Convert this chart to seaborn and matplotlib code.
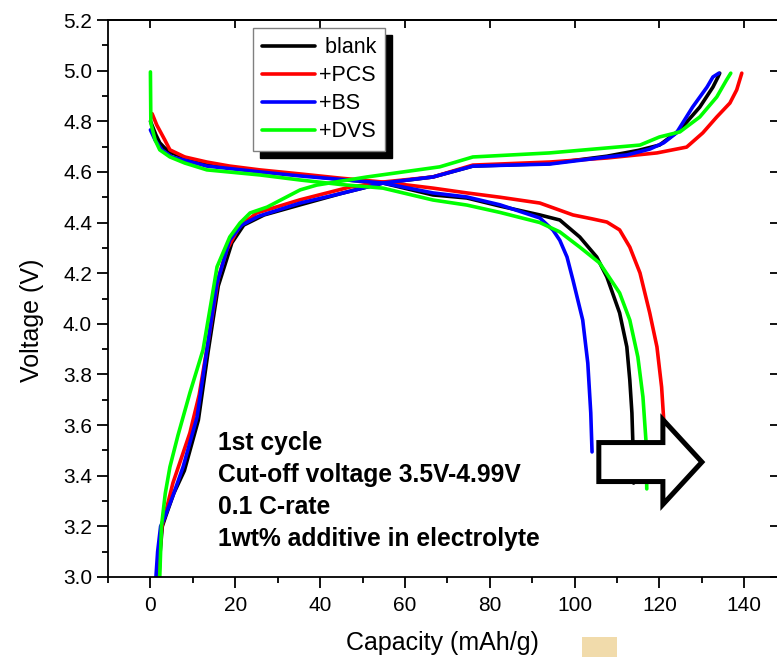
import numpy as np
import pandas as pd
import matplotlib
matplotlib.use("Agg")
import matplotlib.pyplot as plt
from matplotlib.lines import Line2D
from matplotlib.patches import FancyArrow, Rectangle
from matplotlib.ticker import MultipleLocator, NullLocator, FormatStrFormatter
import seaborn as sns

samples = ["blank", "+PCS", "+BS", "+DVS"]
legend_labels = [" blank", "+PCS", "+BS", "+DVS"]
colors = ["#000000", "#ff0000", "#0000ff", "#00ff00"]

# charge curves (capacity mAh/g, voltage V)
blank_chg_c = [2.0, 2.3, 2.8, 3.6, 5.5, 8.0, 11.3, 13.6, 16.0, 19.2, 22.0, 26.8, 35.3, 45.0, 54.8, 66.6,
               76.0, 94.1, 107.6, 115.0, 120.0, 124.8, 129.5, 132.6, 133.8, 134.2]
blank_chg_v = [3.0, 3.1, 3.2, 3.24, 3.33, 3.42, 3.62, 3.89, 4.15, 4.32, 4.39, 4.43, 4.47, 4.515, 4.556, 4.58,
               4.623, 4.633, 4.662, 4.685, 4.706, 4.766, 4.856, 4.935, 4.975, 4.99]
red_chg_c = [1.8, 2.2, 2.7, 3.5, 5.3, 9.3, 11.5, 13.6, 16.0, 18.0, 21.0, 25.1, 35.3, 47.0, 54.8, 66.6, 70.6,
             76.0, 94.1, 107.6, 119.4, 126.4, 130.2, 133.5, 136.6, 138.2, 139.4]
red_chg_v = [3.0, 3.1, 3.2, 3.25, 3.371, 3.569, 3.72, 3.93, 4.18, 4.292, 4.385, 4.438, 4.49, 4.54, 4.56, 4.58,
             4.6, 4.627, 4.639, 4.655, 4.675, 4.698, 4.754, 4.817, 4.872, 4.924, 4.99]
blue_chg_c = [1.3, 1.7, 2.4, 3.4, 5.5, 7.7, 11.0, 13.3, 15.7, 18.7, 21.5, 25.5, 35.3, 45.0, 54.8, 66.6, 76.0,
              94.1, 107.6, 112.3, 117.7, 121.0, 124.0, 127.8, 131.2, 132.6, 134.0]
blue_chg_v = [3.0, 3.1, 3.2, 3.237, 3.33, 3.435, 3.632, 3.897, 4.161, 4.331, 4.39, 4.425, 4.477, 4.515, 4.556,
              4.58, 4.623, 4.631, 4.659, 4.667, 4.69, 4.715, 4.754, 4.856, 4.935, 4.975, 4.99]
green_chg_c = [2.2, 2.6, 3.5, 4.6, 6.5, 9.3, 12.4, 14.4, 15.7, 17.1, 18.7, 21.1, 23.5, 27.5, 35.3, 39.2, 51.0,
               68.2, 76.0, 94.1, 115.4, 120.0, 124.8, 129.5, 133.5, 135.8, 136.8]
green_chg_v = [3.0, 3.2, 3.33, 3.435, 3.56, 3.727, 3.897, 4.094, 4.225, 4.28, 4.343, 4.398, 4.438, 4.461, 4.529,
               4.548, 4.58, 4.62, 4.659, 4.675, 4.706, 4.738, 4.758, 4.817, 4.896, 4.963, 4.99]

# discharge curves
blank_dis_c = [0.0, 0.6, 1.3, 2.2, 3.4, 5.0, 7.0, 13.3, 25.8, 35.3, 45.0, 54.8, 66.6, 74.6, 82.4, 91.8, 96.5,
               101.2, 105.2, 107.6, 110.6, 112.3, 113.0, 113.5, 113.7, 113.9]
blank_dis_v = [4.80, 4.775, 4.746, 4.715, 4.694, 4.675, 4.663, 4.627, 4.604, 4.588, 4.57, 4.556, 4.509, 4.497,
               4.465, 4.43, 4.41, 4.343, 4.264, 4.185, 4.043, 3.909, 3.778, 3.648, 3.541, 3.371]
red_dis_c = [0.4, 1.5, 3.4, 4.6, 8.1, 13.3, 18.7, 25.8, 35.3, 45.0, 54.8, 66.6, 74.6, 82.4, 91.8, 99.6, 104.0,
             107.6, 110.6, 113.0, 115.4, 117.7, 119.4, 120.5, 121.0, 121.3]
red_dis_v = [4.83, 4.785, 4.726, 4.687, 4.659, 4.639, 4.623, 4.608, 4.592, 4.575, 4.56, 4.536, 4.517, 4.50,
             4.477, 4.43, 4.415, 4.402, 4.371, 4.303, 4.201, 4.043, 3.909, 3.75, 3.62, 3.36]
blue_dis_c = [0.0, 1.1, 2.7, 5.1, 13.3, 25.8, 35.3, 45.0, 54.8, 66.6, 74.6, 82.4, 91.8, 94.9, 96.5, 98.2, 99.6,
              101.9, 103.1, 103.8, 104.1]
blue_dis_v = [4.766, 4.726, 4.687, 4.659, 4.623, 4.60, 4.584, 4.57, 4.556, 4.517, 4.501, 4.47, 4.418, 4.37, 4.33,
              4.264, 4.173, 4.015, 3.845, 3.648, 3.494]
green_dis_c = [0.0, 0.1, 1.1, 2.2, 4.6, 8.1, 13.3, 25.8, 35.3, 45.0, 54.8, 66.6, 74.6, 82.4, 91.8, 96.5, 101.2,
               105.9, 110.6, 113.0, 114.9, 116.1, 116.8, 117.0]
green_dis_v = [4.995, 4.793, 4.726, 4.687, 4.659, 4.635, 4.608, 4.588, 4.568, 4.55, 4.536, 4.489, 4.469, 4.44,
               4.40, 4.363, 4.303, 4.24, 4.122, 4.015, 3.869, 3.711, 3.541, 3.348]

note = "1st cycle\nCut-off voltage 3.5V-4.99V\n0.1 C-rate\n1wt% additive in electrolyte"

curves = [
    ("blank", blank_chg_c, blank_chg_v, blank_dis_c, blank_dis_v),
    ("+PCS", red_chg_c, red_chg_v, red_dis_c, red_dis_v),
    ("+BS", blue_chg_c, blue_chg_v, blue_dis_c, blue_dis_v),
    ("+DVS", green_chg_c, green_chg_v, green_dis_c, green_dis_v),
]
rows = []
for name, cc, cv, dc, dv in curves:
    rows += [(name, "charge", c, v) for c, v in zip(cc, cv)]
    rows += [(name, "discharge", c, v) for c, v in zip(dc, dv)]
df = pd.DataFrame(rows, columns=["sample", "step", "capacity", "voltage"])

sns.set_style("ticks")
plt.rcParams["font.family"] = ["Liberation Sans", "DejaVu Sans"]
plt.rcParams.update({"text.color": "black", "axes.labelcolor": "black",
                     "xtick.color": "black", "ytick.color": "black",
                     "axes.edgecolor": "black"})

fig = plt.figure(figsize=(7.77, 6.57), dpi=100)
ax = fig.add_axes([108 / 777, 80 / 657, 669 / 777, 557 / 657])

sns.lineplot(data=df, x="capacity", y="voltage", hue="sample", hue_order=samples,
             palette=colors, units="step", estimator=None, sort=False,
             lw=2.6, legend=False, ax=ax)

ax.set_xlim(-10, 147.7)
ax.set_ylim(3.0, 5.2)
ax.set_xticks(range(0, 141, 20))
ax.xaxis.set_minor_locator(MultipleLocator(10))
ax.set_yticks(np.arange(3.0, 5.21, 0.2))
ax.yaxis.set_minor_locator(MultipleLocator(0.1))
ax.yaxis.set_major_formatter(FormatStrFormatter("%.1f"))
ax.tick_params(axis="x", which="major", pad=6)
ax.tick_params(which="major", direction="out", length=8, width=1.3, labelsize=15,
               top=False, right=False)
ax.tick_params(which="minor", direction="out", length=4.5, width=1.3, top=False, right=False)
for s in ["left", "bottom", "top"]:
    ax.spines[s].set_linewidth(1.3)
ax.spines["right"].set_visible(False)

secx = ax.secondary_xaxis("top")
secx.set_xticks(range(0, 141, 20))
secx.xaxis.set_minor_locator(NullLocator())
secx.tick_params(direction="in", length=6, width=1.3, labeltop=False)
secx.spines["top"].set_linewidth(1.3)
secy = ax.secondary_yaxis("right")
secy.set_yticks(np.arange(3.0, 5.21, 0.2))
secy.yaxis.set_minor_locator(NullLocator())
secy.tick_params(direction="in", length=5, width=1.3, labelright=False)
secy.spines["right"].set_visible(False)

ax.set_xlabel("Capacity (mAh/g)", fontsize=18, labelpad=11)
ax.set_ylabel("Voltage (V)", fontsize=18)
ax.yaxis.set_label_coords(-0.095, 0.46)

handles = [Line2D([], [], color=c, lw=2.6) for c in colors]
leg = ax.legend(handles, legend_labels, loc="upper left", bbox_to_anchor=(0.2167, 0.9856),
                borderaxespad=0, fancybox=False, fontsize=15.5, handlelength=2.45,
                handletextpad=0.2, labelspacing=0.33, borderpad=0.42, framealpha=1,
                shadow={"ox": 5, "oy": -5, "color": "black", "alpha": 1})
leg.get_frame().set_edgecolor("#808080")
leg.get_frame().set_linewidth(1.0)

arrow = FancyArrow(105.7, 3.454, 24.3, 0, width=0.154, head_width=0.335, head_length=9.2,
                   length_includes_head=True, fc="white", ec="black", lw=3.6,
                   joinstyle="miter", zorder=5)
ax.add_patch(arrow)

ax.text(15.9, 3.578, note, fontsize=17.7, fontweight="bold", va="top", ha="left",
        linespacing=1.42, zorder=6)

fig.add_artist(Rectangle((582 / 777, 0), 35 / 777, 20 / 657, transform=fig.transFigure,
                         color="#F1DBAB", lw=0))

fig.savefig("out.png", dpi=100)
